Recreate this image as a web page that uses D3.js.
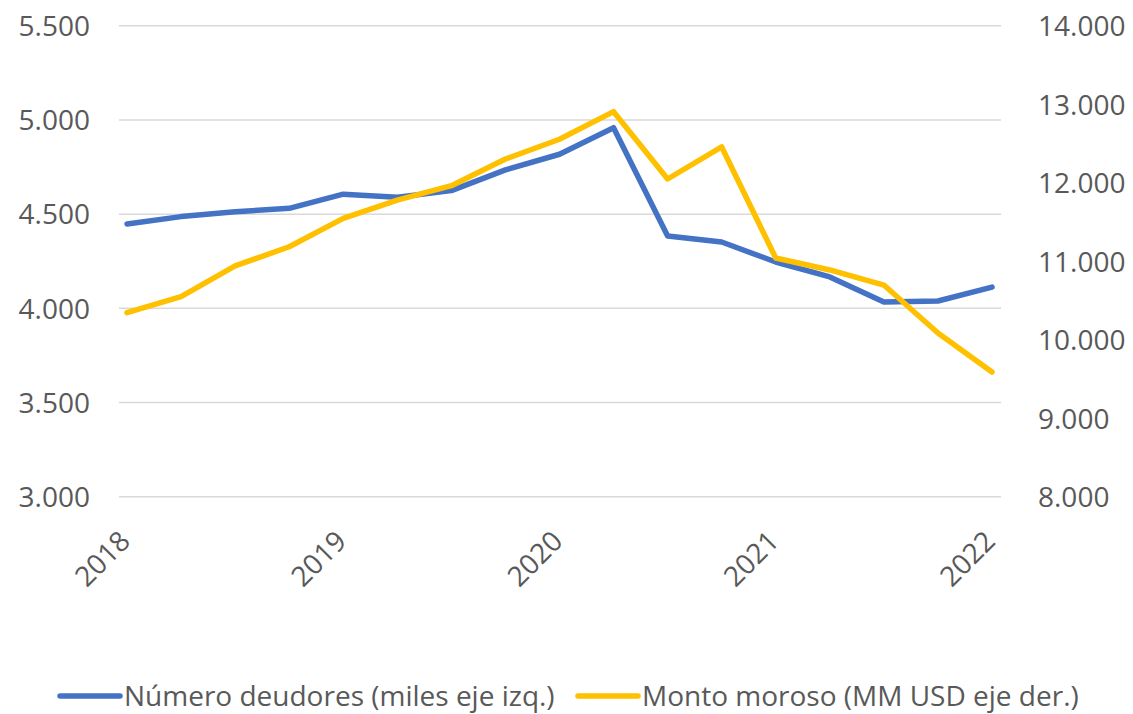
<!DOCTYPE html>
<html>
<head>
<meta charset="utf-8">
<script src="https://cdn.jsdelivr.net/npm/d3@7"></script>
<style>
  body { margin: 0; background: #fff; }
  text { font-family: "Open Sans", sans-serif; fill: #595959; }
</style>
</head>
<body>
<div id="chart"></div>
<script>
// quarterly observations, 2018 Q1 .. 2022 Q1
var quarters = ["2018T1","2018T2","2018T3","2018T4","2019T1","2019T2","2019T3","2019T4",
                "2020T1","2020T2","2020T3","2020T4","2021T1","2021T2","2021T3","2021T4","2022T1"];
var yearLabels = ["2018","2019","2020","2021","2022"];
var deudores = [4448, 4487, 4513, 4531, 4606, 4590, 4625, 4735, 4818, 4959,
                4384, 4352, 4246, 4167, 4034, 4039, 4113];
var moroso = [10344, 10548, 10940, 11185, 11547, 11780, 11963, 12303, 12554, 12906,
              12048, 12456, 11041, 10889, 10697, 10086, 9589];
var leftTicks = [3000, 3500, 4000, 4500, 5000, 5500];
var rightTicks = [8000, 9000, 10000, 11000, 12000, 13000, 14000];
var legendNames = ["Número deudores (miles eje izq.)", "Monto moroso (MM USD eje der.)"];
var colors = ["#4472C4", "#FFC000"];

let w = 1133;
let h = 714;
var fs = 28;
var fmt = function(d) { return d3.format(",")(d).replace(/,/g, "."); };

var svg = d3.select("#chart").append("svg")
    .attr("width", w)
    .attr("height", h);

var x = d3.scalePoint().domain(d3.range(quarters.length)).range([127, 992]);
var yL = d3.scaleLinear().domain([3000, 5500]).range([496.7, 25.8]);
var yR = d3.scaleLinear().domain([8000, 14000]).range([496.7, 25.8]);

// gridlines
svg.append("g").selectAll("line")
    .data(leftTicks)
    .enter().append("line")
    .attr("x1", 119).attr("x2", 1001)
    .attr("y1", function(d) { return yL(d); })
    .attr("y2", function(d) { return yL(d); })
    .attr("stroke", "#D9D9D9")
    .attr("stroke-width", 1.5);

// left axis
var gl = svg.append("g").attr("transform", "translate(90,0)")
    .call(d3.axisLeft(yL).tickValues(leftTicks).tickFormat(fmt).tickSize(0).tickPadding(0));
gl.select(".domain").remove();
gl.selectAll("text").attr("font-size", fs).attr("dy", "0.35em");

// right axis
var gr = svg.append("g").attr("transform", "translate(1038,0)")
    .call(d3.axisRight(yR).tickValues(rightTicks).tickFormat(fmt).tickSize(0).tickPadding(0));
gr.select(".domain").remove();
gr.selectAll("text").attr("font-size", fs).attr("dy", "0.35em");

// year labels, rotated
svg.append("g").selectAll("text")
    .data(yearLabels)
    .enter().append("text")
    .attr("transform", function(d, i) { return "translate(" + (x(i * 4) - 2) + ",536) rotate(-45)"; })
    .attr("text-anchor", "end")
    .attr("dy", "0.35em")
    .attr("font-size", fs)
    .text(function(d) { return d; });

// lines
var lineL = d3.line().x(function(d, i) { return x(i); }).y(function(d) { return yL(d); });
var lineR = d3.line().x(function(d, i) { return x(i); }).y(function(d) { return yR(d); });

svg.append("path")
    .datum(deudores)
    .attr("d", lineL)
    .attr("fill", "none")
    .attr("stroke", colors[0])
    .attr("stroke-width", 5.5)
    .attr("stroke-linecap", "round")
    .attr("stroke-linejoin", "round");

svg.append("path")
    .datum(moroso)
    .attr("d", lineR)
    .attr("fill", "none")
    .attr("stroke", colors[1])
    .attr("stroke-width", 5.5)
    .attr("stroke-linecap", "round")
    .attr("stroke-linejoin", "round");

// legend
var legX = [60, 578];
var leg = svg.append("g").selectAll("g")
    .data(legendNames)
    .enter().append("g")
    .attr("transform", function(d, i) { return "translate(" + legX[i] + ",696)"; });
leg.append("line")
    .attr("x1", 0).attr("x2", 60)
    .attr("stroke", function(d, i) { return colors[i]; })
    .attr("stroke-width", 5.5)
    .attr("stroke-linecap", "round");
leg.append("text")
    .attr("x", 64)
    .attr("dy", "0.35em")
    .attr("font-size", fs)
    .text(function(d) { return d; });
</script>
</body>
</html>
